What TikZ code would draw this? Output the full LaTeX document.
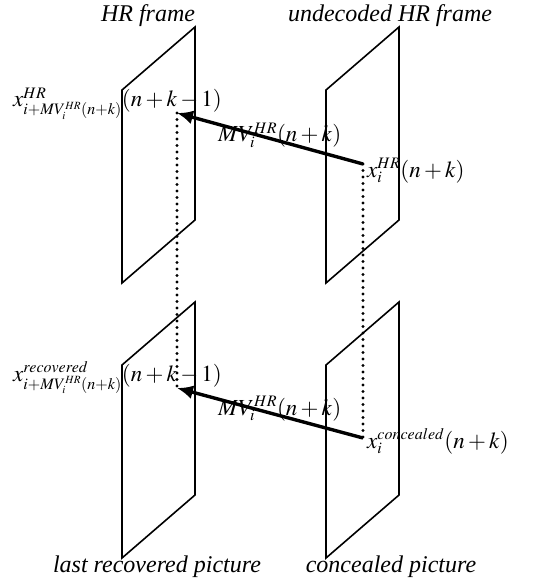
\documentclass[tikz,border=0pt]{standalone}
\usepackage{amsmath}
\usepackage{mathptmx}
\usepackage[no-math]{fontspec}
\setmainfont{Liberation Serif}
\DeclareMathSizes{23}{23}{16}{11}
\usepackage{tikz}
\usetikzlibrary{arrows.meta, positioning}

\begin{document}
\begin{tikzpicture}[x=1pt,y=-1pt,>={Latex[length=16pt,width=14pt]},
    plane/.style={draw, line width=1.6pt, line join=miter},
    mv/.style={->, line width=3.4pt},
    track/.style={line width=3.4pt, dash pattern=on 0pt off 6.5pt, line cap=round},
    lbl/.style={inner sep=0pt, anchor=base west, font=\fontsize{23}{26}\selectfont},
    title/.style={inner sep=0pt, anchor=base, font=\itshape\fontsize{24}{28}\selectfont}]
      \useasboundingbox (0,0) rectangle (557,580);

      % the four pictures
      \foreach \fx/\fy in {122/90, 326/90, 122/365, 326/365}
        \draw[plane] (\fx,\fy) -- ++(73,-63) -- ++(0,193) -- ++(-73,63) -- cycle;

      \node[title] (hrf) at (148,22) {HR frame};
      \node[title] (undec) at (390,22) {undecoded HR frame};
      \node[title] (lastrec) at (157,572) {last recovered picture};
      \node[title] (conc) at (391,572) {concealed picture};

      % pixel positions
      \coordinate (hrref) at (177,113);
      \coordinate (hrcur) at (363,164);
      \coordinate (recref) at (177,388);
      \coordinate (conccur) at (363,438);

      \draw[track] (hrref) -- (recref);
      \draw[track] (hrcur) -- (conccur);
      \draw[mv] (hrcur) -- (hrref);
      \draw[mv] (conccur) -- (recref);

      \node[lbl] (hrreflbl) at (13,107) {$x^{HR}_{i+MV_i^{HR}(n+k)}(n+k-1)$};
      \node[lbl] (recreflbl) at (13,381) {$x^{recovered}_{i+MV_i^{HR}(n+k)}(n+k-1)$};
      \node[lbl] (mvtop) at (218,142) {$MV_i^{HR}(n+k)$};
      \node[lbl] (mvbot) at (218,415) {$MV_i^{HR}(n+k)$};
      \node[lbl] (hrcurlbl) at (367,177) {$x_i^{HR}(n+k)$};
      \node[lbl] (conclbl) at (367,448) {$x_i^{concealed}(n+k)$};
\end{tikzpicture}
\end{document}
